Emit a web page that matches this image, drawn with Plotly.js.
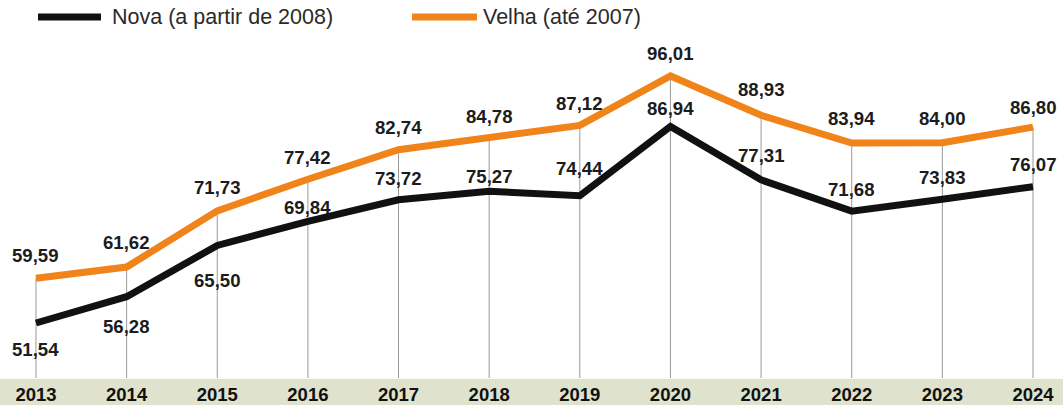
<!DOCTYPE html>
<html>
<head>
<meta charset="utf-8">
<script src="https://cdn.plot.ly/plotly-3.0.1.min.js"></script>
<style>
  html, body { margin: 0; padding: 0; background: #ffffff; }
  #chart { width: 1063px; height: 405px; }
</style>
</head>
<body>
<div id="chart"></div>
<script>
// Years on the horizontal axis
const years = [2013, 2014, 2015, 2016, 2017, 2018, 2019, 2020, 2021, 2022, 2023, 2024];
// Series values
const nova = [51.54, 56.28, 65.50, 69.84, 73.72, 75.27, 74.44, 86.94, 77.31, 71.68, 73.83, 76.07];
const velha = [59.59, 61.62, 71.73, 77.42, 82.74, 84.78, 87.12, 96.01, 88.93, 83.94, 84.00, 86.80];
// Series names
const novaName = 'Nova (a partir de 2008)';
const velhaName = 'Velha (até 2007)';
// Vertical offset (px, positive = up) of each value label from its point
const velhaLabelShift = [23, 25, 23, 22, 22, 22, 22, 22, 26, 25, 24, 20];
const novaLabelShift = [-26, -30, -35, 14, 21, 15, 27, 18, 24, 22, 22, 22];

const BLACK = '#111111';
const ORANGE = '#f0841a';
const SANS = 'Liberation Sans, Arial, sans-serif';
const LABEL_FONT = { family: SANS, size: 18.6, color: '#1c1c1c', weight: 700 };
const fmt = v => v.toFixed(2).replace('.', ',');

const yMin = 41.64, yMax = 102.49;
const H = 405, W = 1063, T = 40, B = 27;
const plotH = H - T - B;
const legendY = 1 + (T - 17) / plotH;

const traces = [
  { x: years, y: nova, name: novaName, mode: 'lines', line: { color: BLACK, width: 7 } },
  { x: years, y: velha, name: velhaName, mode: 'lines', line: { color: ORANGE, width: 7 } }
];

const shapes = [];
// bottom band behind the year labels
shapes.push({ type: 'rect', xref: 'paper', yref: 'paper', x0: 0, x1: 1, y0: -B / plotH, y1: -1 / plotH,
  fillcolor: '#dfe2cd', line: { width: 0 }, layer: 'below' });
// drop lines from the upper series down to the band
years.forEach((yr, i) => {
  shapes.push({ type: 'line', xref: 'x', yref: 'y', x0: yr, x1: yr, y0: yMin, y1: velha[i],
    line: { color: '#9a9a9a', width: 1 }, layer: 'below' });
});
// legend samples
shapes.push({ type: 'line', xref: 'paper', yref: 'paper', x0: 38 / W, x1: 101 / W, y0: legendY, y1: legendY,
  line: { color: BLACK, width: 7 } });
shapes.push({ type: 'line', xref: 'paper', yref: 'paper', x0: 412 / W, x1: 477 / W, y0: legendY, y1: legendY,
  line: { color: ORANGE, width: 7 } });

const annotations = [];
years.forEach((yr, i) => {
  annotations.push({ x: yr, y: velha[i], xref: 'x', yref: 'y', text: fmt(velha[i]), showarrow: false,
    yshift: velhaLabelShift[i], font: LABEL_FONT });
  annotations.push({ x: yr, y: nova[i], xref: 'x', yref: 'y', text: fmt(nova[i]), showarrow: false,
    yshift: novaLabelShift[i], font: LABEL_FONT });
});
// legend texts
const LEG_FONT = { family: SANS, size: 21.5, color: '#2a2a2a' };
annotations.push({ xref: 'paper', yref: 'paper', x: 110 / W, y: legendY, xanchor: 'left', yanchor: 'middle',
  text: novaName, showarrow: false, font: LEG_FONT });
annotations.push({ xref: 'paper', yref: 'paper', x: 481 / W, y: legendY, xanchor: 'left', yanchor: 'middle',
  text: velhaName, showarrow: false, font: LEG_FONT });

const layout = {
  width: W, height: H,
  margin: { l: 0, r: 0, t: T, b: B, pad: 0 },
  paper_bgcolor: '#ffffff', plot_bgcolor: '#ffffff',
  showlegend: false,
  xaxis: {
    range: [2012.603, 2024.331], tickmode: 'array', tickvals: years, ticktext: years.map(String),
    showgrid: false, zeroline: false, showline: false, ticks: '',
    tickfont: { family: SANS, size: 18.5, color: '#111111', weight: 700 },
    ticklabelstandoff: 3, fixedrange: true
  },
  yaxis: { range: [yMin, yMax], visible: false, fixedrange: true },
  shapes: shapes,
  annotations: annotations
};

Plotly.newPlot('chart', traces, layout, { displayModeBar: false, staticPlot: true });
</script>
</body>
</html>
